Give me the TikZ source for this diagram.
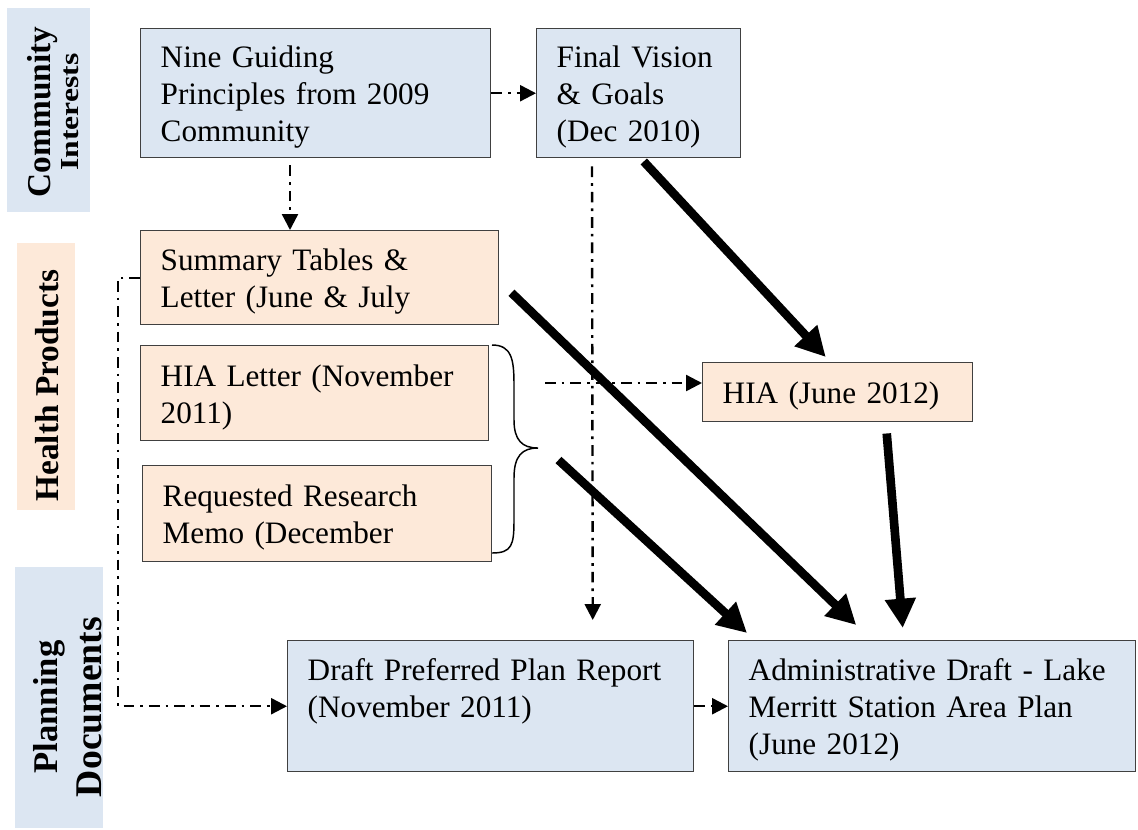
\documentclass[tikz,border=0pt]{standalone}
\usepackage{fontspec}
\usepackage{graphicx}
\setmainfont{Liberation Serif}
\usetikzlibrary{arrows.meta,calc}
\definecolor{boxblue}{HTML}{DCE6F2}
\definecolor{boxpeach}{HTML}{FDE9D9}
\definecolor{boxedge}{HTML}{404040}
\begin{document}
\begin{tikzpicture}[x=0.75pt,y=-0.75pt,
  box/.style={draw=boxedge, line width=1.1pt, anchor=north west, align=left,
    inner xsep=15pt, inner ysep=0pt, text height=22.5pt, font=\fontsize{23.4}{27.75}\selectfont},
  bluebox/.style={box, fill=boxblue},
  peachbox/.style={box, fill=boxpeach},
  band/.style={inner sep=0pt, draw=none},
  side/.style={rotate=90, inner sep=0pt, align=center, font=\bfseries},
  dd/.style={line width=1.8pt, dash pattern=on 8pt off 4.5pt on 2pt off 4.5pt,
    -{Triangle[length=12pt,width=12pt]}},
  thickarrow/.style={line width=6.5pt, -{Triangle[length=22pt,width=22pt]}},
]
\useasboundingbox (0,0) rectangle (1138,829);

% side bands
\node[band, fill=boxblue, minimum width=62.25pt, minimum height=153pt] (ciband) at (48.5,110) {};
\node[side, font=\bfseries\fontsize{25}{21}\selectfont] (citext) at (53,112)
  {Community\\\resizebox{87.75pt}{12.75pt}{Interests}};
\node[band, fill=boxpeach, minimum width=43.5pt, minimum height=200.25pt] (hpband) at (46,376.5) {};
\node[side, font=\bfseries\fontsize{25}{25}\selectfont] (hptext) at (47,385.5) {Health Products};
\node[band, fill=boxblue, minimum width=66pt, minimum height=195.75pt] (pdband) at (59,697.5) {};
\node[side, font=\bfseries\fontsize{26}{33}\selectfont] (pdtext) at (68,707)
  {Planning\\\resizebox{135pt}{!}{Documents}};

% boxes
\node[bluebox, minimum width=262.5pt, minimum height=96.75pt, text width=232.5pt] (nine) at (140,28)
  {Nine Guiding\\Principles from 2009\\Community};
\node[bluebox, minimum width=153pt, minimum height=96.75pt, text width=123pt] (final) at (536,28)
  {Final Vision\\\& Goals\\(Dec 2010)};
\node[peachbox, minimum width=268.5pt, minimum height=70.5pt, text width=238.5pt] (summary) at (140,230)
  {Summary Tables \&\\Letter (June \& July};
\node[peachbox, minimum width=261pt, minimum height=71.25pt, text width=231pt] (hialetter) at (140,345)
  {HIA Letter (November\\2011)};
\node[peachbox, minimum width=261.75pt, minimum height=72pt, text width=231.75pt] (memo) at (142,465)
  {Requested Research\\Memo (December};
\node[peachbox, minimum width=202.5pt, minimum height=44.25pt, text width=172.5pt] (hia) at (702,362)
  {HIA (June 2012)};
\node[bluebox, minimum width=304.5pt, minimum height=98.25pt, text width=274.5pt, text depth=60.8pt] (draft) at (287,640)
  {Draft Preferred Plan Report\\(November 2011)};
\node[bluebox, minimum width=305.25pt, minimum height=98.25pt, text width=275.25pt] (admin) at (728,640)
  {Administrative Draft - Lake\\Merritt Station Area Plan\\(June 2012)};

% brace
\draw[line width=1.1pt] (492,345) .. controls (512,345) and (514,360) .. (514,385) -- (514,420)
  .. controls (514,440) and (522,448) .. (538,448)
  .. controls (522,448) and (514,456) .. (514,478) -- (514,520)
  .. controls (514,545) and (512,553) .. (492,553);

% coordinates
\coordinate (fs) at ($(final.south west)+(56,8)$);
\coordinate (fe) at ($(draft.north)+(102,-20)$);
\coordinate (bs) at (545,383);
\coordinate (ns) at ($(nine.south west)+(150,7)$);
\coordinate (t1s) at ($(final.south)+(5,3)$);
\coordinate (t1e) at ($(hia.north)+(-12,-5)$);
\coordinate (t2s) at ($(summary.east)+(12,15)$);
\coordinate (t2e) at ($(admin.north)+(-76,-15)$);
\coordinate (t3s) at ($(memo.north east)+(66,-5)$);
\coordinate (t3e) at ($(admin.north west)+(19,-7)$);
\coordinate (t4s) at ($(hia.south)+(49,11)$);
\coordinate (t4e) at ($(admin.north)+(-29.5,-12)$);

% dash-dot connectors
\draw[dd] (nine.east) -- (final.west);
\draw[dd] (ns) -- (ns |- summary.north);
\draw[dd] (fs) -- (fe);
\draw[dd] (bs) -- (bs -| hia.west);
\draw[dd] (summary.west) -- ++(-22,0) |- (draft.west);
\draw[dd] (draft.east) -- (admin.west);

% thick arrows
\draw[thickarrow] (t1s) -- (t1e);
\draw[thickarrow] (t2s) -- (t2e);
\draw[thickarrow] (t3s) -- (t3e);
\draw[thickarrow] (t4s) -- (t4e);
\end{tikzpicture}
\end{document}
